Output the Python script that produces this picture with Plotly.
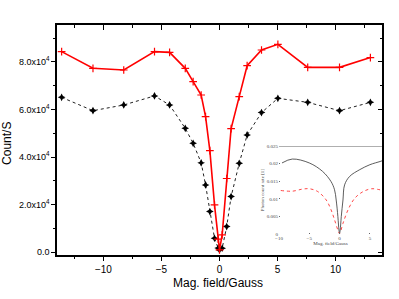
import plotly.graph_objects as go

# Main data (Mag. field in Gauss, counts per second)
field = [-13.6, -10.9, -8.25, -5.6, -4.3, -2.95, -2.27, -1.58, -1.2, -0.83, -0.43, -0.12, 0.0,
         0.23, 0.62, 1.0, 1.7, 2.38, 3.62, 5.03, 7.6, 10.34, 13.0]
red_counts = [84300, 77300, 76600, 84300, 84000, 77300, 71700, 66100, 57000, 42700, 19900, 5500, 1000,
              7300, 31000, 52000, 65400, 78400, 85000, 87400, 77700, 77700, 81800]
black_counts = [65100, 59500, 61900, 65700, 61900, 52100, 45800, 37600, 28300, 17100, 5900, 1800, 1000,
                1700, 10800, 23400, 37400, 49300, 58700, 64700, 63000, 59500, 63000]

# Inset data (simulation)
inset_x_black = [-9.5, -7.8, -5.0, -2.8, -1.4, -0.83, -0.56, -0.28, -0.1, 0.0,
                 0.1, 0.28, 0.56, 0.83, 1.67, 3.33, 5.0, 6.67, 7.0]
inset_black = [0.0202, 0.0213, 0.0202, 0.0178, 0.0149, 0.0126, 0.0097, 0.005, 0.0012, 0.0003,
               0.0012, 0.005, 0.0097, 0.0140, 0.0164, 0.0183, 0.0197, 0.0206, 0.0208]
inset_x_red = [-9.7, -7.8, -6.1, -5.0, -3.6, -2.2, -1.4, -0.83, -0.28, 0.0,
               0.56, 1.39, 2.5, 3.9, 5.3, 6.67, 7.0]
inset_red = [0.0124, 0.0122, 0.0128, 0.0129, 0.0121, 0.0097, 0.0069, 0.0041, 0.0012, 0.0002,
             0.0031, 0.0069, 0.0102, 0.0121, 0.0129, 0.0126, 0.0125]

y_tickvals = [0, 20000, 40000, 60000, 80000]
y_ticktext = ["0.0", "2.0x10<sup>4</sup>", "4.0x10<sup>4</sup>", "6.0x10<sup>4</sup>", "8.0x10<sup>4</sup>"]
x_tickvals = [-10, -5, 0, 5, 10]

inset_yvals = [0, 0.005, 0.01, 0.015, 0.02, 0.025]
inset_ytext = ["0", "0.005", "0.01", "0.015", "0.02", "0.025"]
inset_xvals = [-10, -5, 0, 5]

XR = [-14, 14]
YR = [-1134, 95500]

fig = go.Figure()

fig.add_trace(go.Scatter(
    x=field, y=black_counts, mode="lines+markers",
    line=dict(color="#222222", width=1, dash="dot"),
    marker=dict(symbol="star-diamond", size=5.5, color="black"),
    showlegend=False))
fig.add_trace(go.Scatter(
    x=field, y=red_counts, mode="lines+markers",
    line=dict(color="#ff0000", width=1.6),
    marker=dict(symbol="cross-thin", size=5.5, line=dict(color="#ff0000", width=1.2)),
    showlegend=False))

# dummy trace for mirrored inside ticks (top / right)
fig.add_trace(go.Scatter(x=[None], y=[None], xaxis="x2", yaxis="y2", showlegend=False,
                         hoverinfo="skip"))

# inset traces
fig.add_trace(go.Scatter(
    x=inset_x_black, y=inset_black, mode="lines", line=dict(color="#333333", width=0.8, shape="spline"),
    xaxis="x3", yaxis="y3", showlegend=False))
fig.add_trace(go.Scatter(
    x=inset_x_red, y=inset_red, mode="lines", line=dict(color="#ff3333", width=0.9, dash="dot", shape="spline"),
    xaxis="x3", yaxis="y3", showlegend=False))

font_main = "Liberation Sans, Arial, sans-serif"
font_inset = "Liberation Serif, Times New Roman, serif"

fig.update_layout(
    width=399, height=299,
    margin=dict(l=57, r=17, t=25, b=44, autoexpand=False),
    paper_bgcolor="white", plot_bgcolor="white",
    font=dict(family=font_main, color="black", size=10),
    xaxis=dict(
        range=XR, showgrid=False, zeroline=False, automargin=False,
        showline=True, linecolor="black", linewidth=1.5,
        ticks="outside", ticklen=4, tickwidth=1, tickcolor="black",
        tickmode="array", tickvals=x_tickvals,
        minor=dict(tickmode="linear", tick0=-12.5, dtick=5, ticks="outside", ticklen=2.5, tickcolor="black"),
        tickfont=dict(size=10),
        domain=[0, 1],
    ),
    yaxis=dict(
        range=YR, showgrid=False, zeroline=False, automargin=False,
        showline=True, linecolor="black", linewidth=1.5,
        ticks="outside", ticklen=4, tickwidth=1, tickcolor="black",
        tickmode="array", tickvals=y_tickvals, ticktext=y_ticktext,
        minor=dict(tickmode="linear", tick0=10000, dtick=20000, ticks="outside", ticklen=2.5, tickcolor="black"),
        tickfont=dict(size=9),
        domain=[0, 1],
    ),
    xaxis2=dict(
        range=XR, overlaying="x", side="top", showgrid=False, zeroline=False, automargin=False,
        showline=True, linecolor="black", linewidth=1.5,
        ticks="inside", ticklen=5, tickwidth=1, tickcolor="black",
        tickmode="array", tickvals=x_tickvals, showticklabels=False,
        minor=dict(tickmode="linear", tick0=-12.5, dtick=5, ticks="inside", ticklen=3, tickcolor="black"),
    ),
    yaxis2=dict(
        range=YR, overlaying="y", side="right", showgrid=False, zeroline=False, automargin=False,
        showline=True, linecolor="black", linewidth=1.5,
        ticks="inside", ticklen=4, tickwidth=1, tickcolor="black",
        tickmode="array", tickvals=y_tickvals, showticklabels=False,
        minor=dict(tickmode="linear", tick0=10000, dtick=20000, ticks="inside", ticklen=2.5, tickcolor="black"),
    ),
    xaxis3=dict(
        domain=[0.683, 1.0], anchor="y3", range=[-10, 7.0], automargin=False,
        showgrid=False, zeroline=False, showline=False,
        ticks="inside", ticklen=1.5, tickwidth=0.6, tickcolor="#666666",
        tickmode="array", tickvals=inset_xvals,
        tickfont=dict(family=font_inset, size=5, color="#444444"),
        title=dict(text="Mag. field/Gauss", font=dict(family=font_inset, size=5, color="#444444"), standoff=1),
    ),
    yaxis3=dict(
        domain=[0.09, 0.474], anchor="x3", range=[0, 0.025], automargin=False,
        showgrid=False, zeroline=False, showline=False,
        ticks="inside", ticklen=1.5, tickwidth=0.6, tickcolor="#666666",
        tickmode="array", tickvals=inset_yvals, ticktext=inset_ytext,
        tickfont=dict(family=font_inset, size=5, color="#444444"),
        title=dict(text="Photon count rate [1]", font=dict(family=font_inset, size=5, color="#444444"), standoff=1),
    ),
    shapes=[
        dict(type="line", xref="x3", yref="y3", x0=-10, x1=7.0, y0=0.025, y1=0.025,
             line=dict(color="#555555", width=1)),
    ],
    annotations=[
        dict(text="Count/S", xref="paper", yref="paper", x=-0.154, y=0.487,
             showarrow=False, textangle=-90, font=dict(size=12), xanchor="center", yanchor="middle"),
        dict(text="Mag. field/Gauss", xref="paper", yref="paper", x=0.495, y=-0.122,
             showarrow=False, font=dict(size=12), xanchor="center", yanchor="middle"),
    ],
)

fig.write_html("out.html", config={"displayModeBar": False},
               post_script="document.body.style.margin='0px';")
